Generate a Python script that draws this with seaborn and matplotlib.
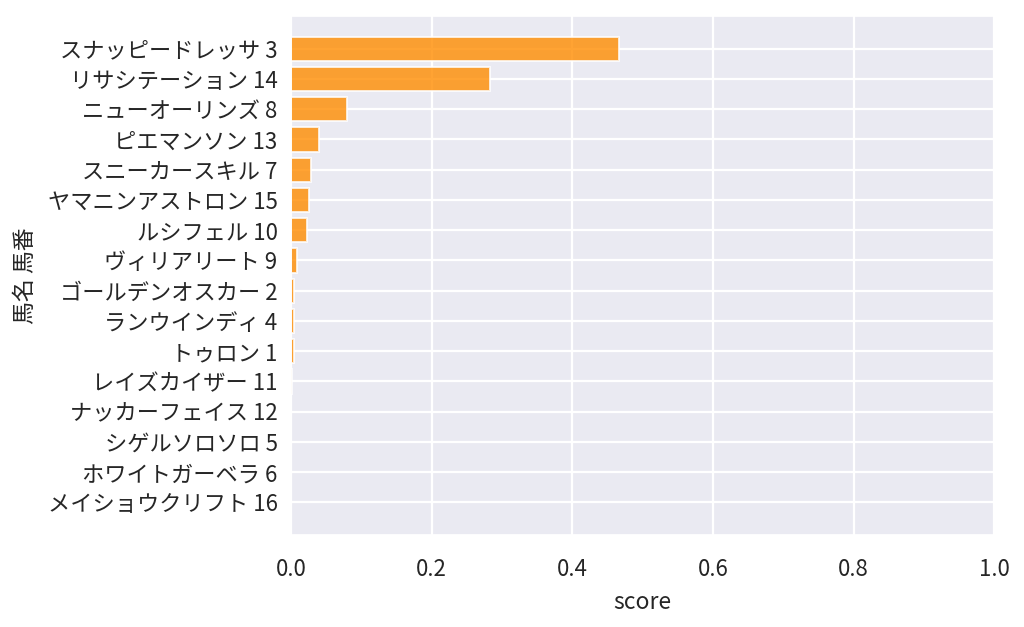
import pandas as pd
import seaborn as sns
import matplotlib.pyplot as plt

# horse names + numbers, sorted by score
horse_names = ['スナッピードレッサ 3', 'リサシテーション 14', 'ニューオーリンズ 8', 'ピエマンソン 13',
               'スニーカースキル 7', 'ヤマニンアストロン 15', 'ルシフェル 10', 'ヴィリアリート 9',
               'ゴールデンオスカー 2', 'ランウインディ 4', 'トゥロン 1', 'レイズカイザー 11',
               'ナッカーフェイス 12', 'シゲルソロソロ 5', 'ホワイトガーベラ 6', 'メイショウクリフト 16']
scores = [0.466, 0.283, 0.080, 0.040, 0.028, 0.026, 0.023, 0.0085,
          0.0045, 0.004, 0.004, 0.002, 0.0008, 0.0005, 0.0004, 0.0003]

df = pd.DataFrame({'馬名 馬番': horse_names, 'score': scores})

sns.set_theme(style='darkgrid', rc={'grid.linewidth': 1.6})
plt.rcParams['font.family'] = ['Noto Sans CJK JP', 'DejaVu Sans']

fig = plt.figure(figsize=(10.24, 6.27), dpi=100)
ax = fig.add_axes([0.284, 0.147, 0.687, 0.827])

sns.barplot(data=df, x='score', y='馬名 馬番', orient='h', color='darkorange',
            alpha=0.8, width=0.8, saturation=1, edgecolor='w', linewidth=1.4, ax=ax)

# matplotlib-style margins around the bars
n = len(horse_names)
ax.set_ylim(n - 1 + 0.4 + 0.67, -0.4 - 0.67)
ax.set_xlim(0, 1.0)
ax.grid(True, axis='both')
ax.set_axisbelow(True)
ax.tick_params(labelsize=16)
ax.tick_params(axis='x', pad=11)
ax.set_xlabel('score', fontsize=16.5, labelpad=7)
ax.set_ylabel('馬名 馬番', fontsize=16.5, labelpad=8)

fig.savefig('out.png', dpi=100)
